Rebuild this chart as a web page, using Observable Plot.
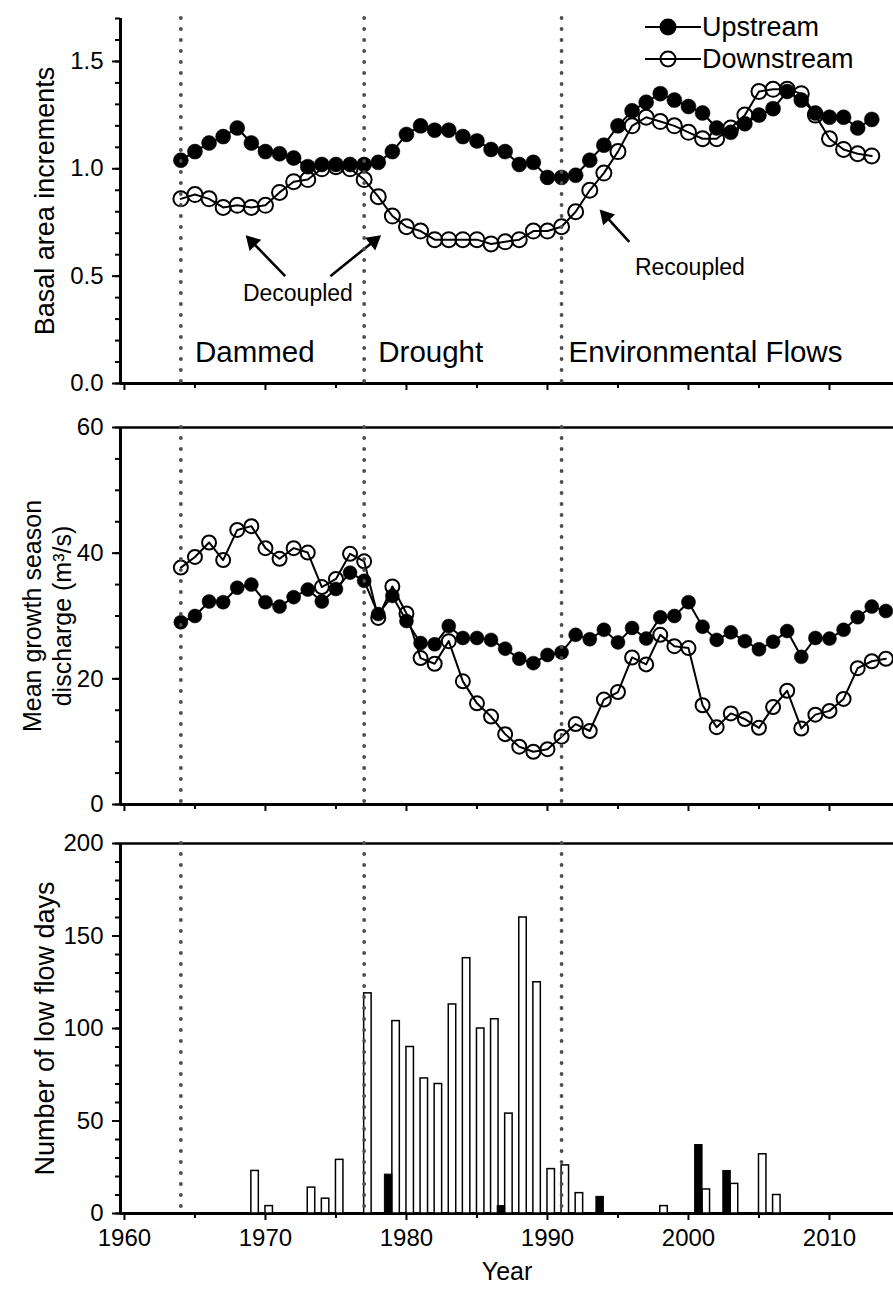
<!DOCTYPE html>
<html><head><meta charset="utf-8">
<script src="https://cdn.jsdelivr.net/npm/d3@7"></script>
<script src="https://cdn.jsdelivr.net/npm/@observablehq/plot@0.6"></script>
<style>
body{margin:0;background:#fff;}
#wrap{position:relative;width:893px;height:1304px;overflow:hidden;background:#fff;}
#wrap svg{position:absolute;left:0;top:0;}
</style></head><body><div id="wrap"></div>
<script>
// ---------- data ----------
const baiYears = d3.range(1964, 2014);
const baiUpstream = [1.04,1.08,1.12,1.15,1.19,1.12,1.08,1.07,1.05,1.01,
  1.02,1.02,1.02,1.02,1.03,1.08,1.16,1.20,1.18,1.18,
  1.15,1.13,1.09,1.08,1.02,1.03,0.96,0.96,0.97,1.04,
  1.11,1.20,1.27,1.31,1.35,1.32,1.29,1.26,1.19,1.17,
  1.21,1.25,1.28,1.36,1.32,1.26,1.24,1.24,1.19,1.23];
const baiDownstream = [0.86,0.88,0.86,0.82,0.83,0.82,0.83,0.89,0.94,0.95,
  1.00,1.01,1.00,0.95,0.87,0.78,0.73,0.71,0.67,0.67,
  0.67,0.67,0.65,0.66,0.67,0.71,0.71,0.73,0.80,0.90,
  0.98,1.08,1.20,1.24,1.22,1.20,1.17,1.14,1.14,1.19,
  1.25,1.36,1.37,1.37,1.35,1.25,1.14,1.09,1.07,1.06];

const qYears = d3.range(1964, 2015);
const qUpstream = [29.0,30.0,32.3,32.2,34.5,35.0,32.2,31.5,33.0,34.2,
  32.3,34.3,36.9,35.6,30.3,33.2,29.2,25.7,25.5,28.4,
  26.5,26.5,26.2,24.8,23.2,22.5,23.8,24.2,27.0,26.3,
  27.8,25.8,28.1,26.4,29.8,30.0,32.2,28.3,26.2,27.4,
  26.0,24.7,25.9,27.6,23.5,26.5,26.4,27.8,29.8,31.5,30.8];
const qDownstream = [37.7,39.4,41.7,38.9,43.7,44.3,40.8,39.1,40.8,40.1,
  34.6,35.9,39.9,38.7,29.7,34.7,30.4,23.3,22.4,26.0,
  19.6,16.1,14.0,11.2,9.2,8.4,8.8,10.8,12.8,11.7,
  16.7,17.9,23.4,22.3,27.0,25.2,24.9,15.8,12.3,14.5,
  13.6,12.2,15.5,18.1,12.1,14.3,14.9,16.8,21.7,22.8,23.2];

const lowDownYears = [1969,1970,1973,1974,1975,1977,1979,1980,1981,1982,1983,1984,1985,1986,1987,1988,1989,1990,1991,1992,1998,2001,2003,2005,2006];
const lowDownDays  = [23,4,14,8,29,119,104,90,73,70,113,138,100,105,54,160,125,24,26,11,4,13,16,32,10];
const lowUpYears = [1979,1987,1994,2001,2003];
const lowUpDays  = [21,4,9,37,23];

const phaseBreaks = [1964, 1977, 1991];
const phaseNames = ["Dammed", "Drought", "Environmental Flows"];
const phaseLabelX = [1965.0, 1978.0, 1991.5];

const baiTicks = [0, 0.5, 1.0, 1.5];
const qTicks = [0, 20, 40, 60];
const lowTicks = [0, 50, 100, 150, 200];
const yearTicks = [1960, 1970, 1980, 1990, 2000, 2010];
const yearMinorTicks = [1965, 1975, 1985, 1995, 2005];

// annotations (data coordinates of the top panel)
const arrows = [
  {x1: 1971.4, y1: 0.50, x2: 1968.6, y2: 0.69},
  {x1: 1974.6, y1: 0.50, x2: 1978.2, y2: 0.69},
  {x1: 1995.8, y1: 0.66, x2: 1993.7, y2: 0.81}
];
const notes = [
  {x: 1972.3, y: 0.42, text: "Decoupled"},
  {x: 2000.1, y: 0.54, text: "Recoupled"}
];

// ---------- layout ----------
const W = 893, H = 1304;
const ML = 120;
const P1 = [18, 383], P2 = [427, 804], P3 = [843, 1213];
const xDomain = [1959.72, 2014.54];
const FONT = "'Liberation Sans', Arial, Helvetica, sans-serif";
const wrap = document.getElementById("wrap");

const rows = (ys, a, b) => ys.map((y, i) => ({year: y, up: a[i], down: b[i]}));
const bai = rows(baiYears, baiUpstream, baiDownstream);
const q = rows(qYears, qUpstream, qDownstream);
const lowDown = lowDownYears.map((y, i) => ({year: y, days: lowDownDays[i]}));
const lowUp = lowUpYears.map((y, i) => ({year: y, days: lowUpDays[i]}));

// arrow heads (filled triangles) : orientation from screen-space direction
const kx = (W - ML) / (xDomain[1] - xDomain[0]);
const ky = (P1[1] - P1[0]) / 1.7;
const HEAD = 9.3;
const arrowGeo = arrows.map(a => {
  const dx = (a.x2 - a.x1) * kx, dy = -(a.y2 - a.y1) * ky;
  const L = Math.hypot(dx, dy), ux = dx / L, uy = dy / L;
  const hx = a.x2 - ux * HEAD / kx, hy = a.y2 + uy * HEAD / ky;
  return {x1: a.x1, y1: a.y1, hx, hy, angle: Math.atan2(ux, -uy) * 180 / Math.PI};
});

function axes(yMax, major, minor, fmt, topLine, xLabels) {
  return [
    Plot.axisY({ticks: minor, tickSize: 5, tickFormat: () => "", strokeWidth: 2, label: null}),
    Plot.axisY({ticks: major, tickSize: 8, tickPadding: 9, tickFormat: fmt, strokeWidth: 2, label: null, fontSize: 24}),
    Plot.axisX({ticks: yearMinorTicks, tickSize: 5, tickFormat: () => "", strokeWidth: 2, label: null}),
    Plot.axisX({ticks: yearTicks, tickSize: 7, tickPadding: 8, strokeWidth: 2, label: null,
      tickFormat: xLabels ? (d => String(d)) : () => "", fontSize: 24}),
    Plot.ruleX([xDomain[0]], {strokeWidth: 3}),
    Plot.ruleY([0], {strokeWidth: 3}),
    topLine ? Plot.ruleY([yMax], {strokeWidth: 2.5}) : null
  ];
}
const dotted = Plot.ruleX(phaseBreaks, {stroke: "#4d4d4d", strokeWidth: 3.8, strokeDasharray: "0,11", strokeLinecap: "round"});
const yTitle = (t, dx, size) => Plot.text([t], {frameAnchor: "left", textAnchor: "middle", dx, rotate: -90, fontSize: size, lineHeight: 1.2});

function panel([top, bottom], yDomain, marks) {
  const svg = Plot.plot({
    width: W, height: H,
    marginLeft: ML, marginRight: 0, marginTop: top, marginBottom: H - bottom,
    x: {domain: xDomain},
    y: {domain: yDomain},
    style: {fontFamily: FONT, fontSize: "24px", color: "black", background: "transparent"},
    marks
  });
  wrap.appendChild(svg);
}

// ---------- panel 1 : basal area increments ----------
panel(P1, [0, 1.7], [
  ...axes(1.7, baiTicks, d3.range(0, 1.71, 0.1).map(v => +v.toFixed(1)), d3.format(".1f"), false, false),
  Plot.line(bai, {x: "year", y: "down", stroke: "black", strokeWidth: 2}),
  Plot.line(bai, {x: "year", y: "up", stroke: "black", strokeWidth: 2}),
  Plot.dot(bai, {x: "year", y: "down", r: 7.5, stroke: "black", strokeWidth: 2, fill: "none"}),
  Plot.dot(bai, {x: "year", y: "up", r: 7.5, fill: "black", stroke: "black", strokeWidth: 0.5}),
  Plot.link(arrowGeo, {x1: "x1", y1: "y1", x2: "hx", y2: "hy", stroke: "black", strokeWidth: 2.6}),
  Plot.dot(arrowGeo, {x: "hx", y: "hy", symbol: "triangle", r: 6, fill: "black", stroke: "none", rotate: "angle"}),
  Plot.text(notes, {x: "x", y: "y", text: "text", fontSize: 23}),
  Plot.text(phaseNames, {x: (d, i) => phaseLabelX[i], y: () => 0.145, text: d => d, textAnchor: "start", fontSize: 29.5}),
  yTitle("Basal area increments", -77, 27),
  dotted
]);

// ---------- panel 2 : discharge ----------
panel(P2, [0, 60], [
  ...axes(60, qTicks, d3.range(0, 61, 5), d => String(d), true, false),
  Plot.line(q, {x: "year", y: "down", stroke: "black", strokeWidth: 2}),
  Plot.line(q, {x: "year", y: "up", stroke: "black", strokeWidth: 2}),
  Plot.dot(q, {x: "year", y: "down", r: 7, stroke: "black", strokeWidth: 2, fill: "none"}),
  Plot.dot(q, {x: "year", y: "up", r: 7, fill: "black", stroke: "black", strokeWidth: 0.5}),
  yTitle("Mean growth season\ndischarge (m³/s)", -74, 25),
  dotted
]);

// ---------- panel 3 : low flow days ----------
panel(P3, [0, 200], [
  ...axes(200, lowTicks, d3.range(0, 201, 10), d => String(d), true, true),
  Plot.rectY(lowDown, {x1: "year", x2: d => d.year + 0.53, y: "days", fill: "white", stroke: "black", strokeWidth: 1.5}),
  Plot.rectY(lowUp, {x1: d => d.year - 0.53, x2: "year", y: "days", fill: "black", stroke: "black", strokeWidth: 1}),
  yTitle("Number of low flow days", -77, 27),
  Plot.text(["Year"], {frameAnchor: "bottom", dy: 66, fontSize: 25}),
  dotted
]);

// ---------- legend ----------
const leg = d3.select(wrap).append("svg")
  .attr("width", 260).attr("height", 80)
  .style("left", "630px").style("top", "8px")
  .style("font-family", FONT).style("font-size", "27px");
const items = [{name: "Upstream", fill: "black"}, {name: "Downstream", fill: "none"}];
items.forEach((it, i) => {
  const g = leg.append("g").attr("transform", `translate(0,${19 + i * 32})`);
  g.append("line").attr("x1", 15).attr("x2", 71).attr("stroke", "black").attr("stroke-width", 2);
  g.append("circle").attr("cx", 38).attr("r", 7.5).attr("fill", it.fill).attr("stroke", "black").attr("stroke-width", 2);
  g.append("text").attr("x", 72).attr("dy", "0.35em").text(it.name);
});
</script></body></html>
